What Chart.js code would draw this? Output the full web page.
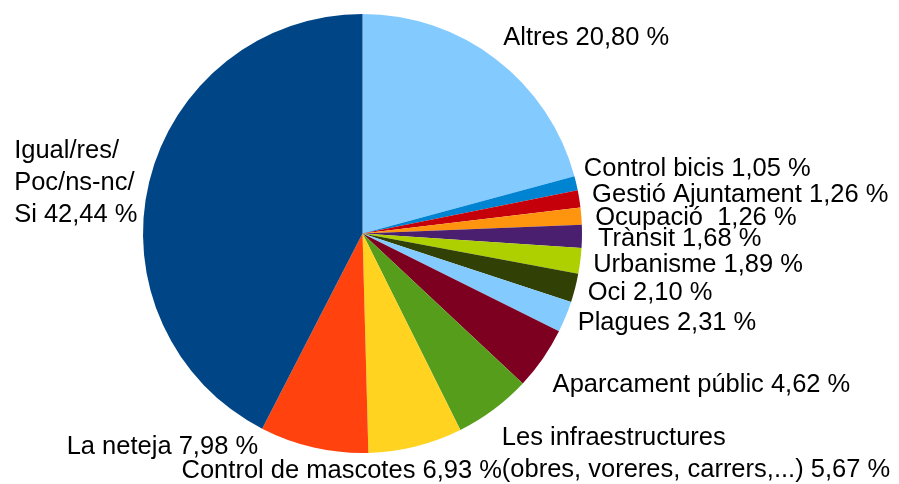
<!DOCTYPE html>
<html>
<head>
<meta charset="utf-8">
<script src="https://cdn.jsdelivr.net/npm/chart.js@4/dist/chart.umd.min.js"></script>
<style>
html,body{margin:0;padding:0;background:#fff;}
#wrap{width:899px;height:484px;position:relative;}
</style>
</head>
<body>
<div id="wrap"><canvas id="c" width="899" height="484"></canvas></div>
<script>
const categories = [
  'Altres',
  'Control bicis',
  'Gestió Ajuntament',
  'Ocupació ',
  'Trànsit',
  'Urbanisme',
  'Oci',
  'Plagues',
  'Aparcament públic',
  'Les infraestructures\n(obres, voreres, carrers,...)',
  'Control de mascotes',
  'La neteja',
  'Igual/res/\nPoc/ns-nc/\nSi'
];
const values = [20.80, 1.05, 1.26, 1.26, 1.68, 1.89, 2.10, 2.31, 4.62, 5.67, 6.93, 7.98, 42.44];
const colors = ['#83caff','#0084d1','#c5000b','#ff950e','#4b1f6f','#aecf00','#314004','#83caff','#7e0021','#579d1c','#ffd320','#ff420e','#004586'];

// label layout nudges (collision adjustments), px
const labelNudge = [[0,-2],[-4,-9],[1,-1],[2,3],[4,1],[1,0],[1,-2],[1,-5],[0,10],[1,10],[-237,-2],[-53,-27],[0,14]];

const FONT = '25.5px "Liberation Sans", Arial, sans-serif';
const LINE = 32;

const labelPlugin = {
  id: 'outLabels',
  afterDraw(chart) {
    const ctx = chart.ctx;
    const meta = chart.getDatasetMeta(0);
    ctx.save();
    ctx.font = FONT;
    ctx.fillStyle = '#000';
    ctx.textBaseline = 'alphabetic';
    meta.data.forEach((arc, i) => {
      const a = (arc.startAngle + arc.endAngle) / 2;
      const rr = arc.outerRadius + 12;
      const px = arc.x + rr * Math.cos(a);
      const py = arc.y + rr * Math.sin(a);
      const txt = categories[i] + ' ' + values[i].toFixed(2).replace('.', ',') + ' %';
      const lines = txt.split('\n');
      const H = 28 + LINE * (lines.length - 1);
      let W = 0;
      lines.forEach(l => { W = Math.max(W, ctx.measureText(l).width); });
      const cy = py + (H / 2) * Math.sin(a) + labelNudge[i][1];
      let left = Math.cos(a) >= 0 ? px : px - W;
      left += labelNudge[i][0];
      const base0 = cy - H / 2 + 22;
      ctx.textAlign = 'left';
      lines.forEach((l, k) => ctx.fillText(l, left, base0 + k * LINE));
    });
    ctx.restore();
  }
};

new Chart(document.getElementById('c'), {
  type: 'pie',
  data: {
    labels: categories,
    datasets: [{
      data: values,
      backgroundColor: colors,
      borderWidth: 0
    }]
  },
  options: {
    responsive: false,
    animation: false,
    layout: { padding: { top: 14, bottom: 31, left: 143, right: 317 } },
    plugins: { legend: { display: false }, tooltip: { enabled: false } }
  },
  plugins: [labelPlugin]
});
</script>
</body>
</html>
